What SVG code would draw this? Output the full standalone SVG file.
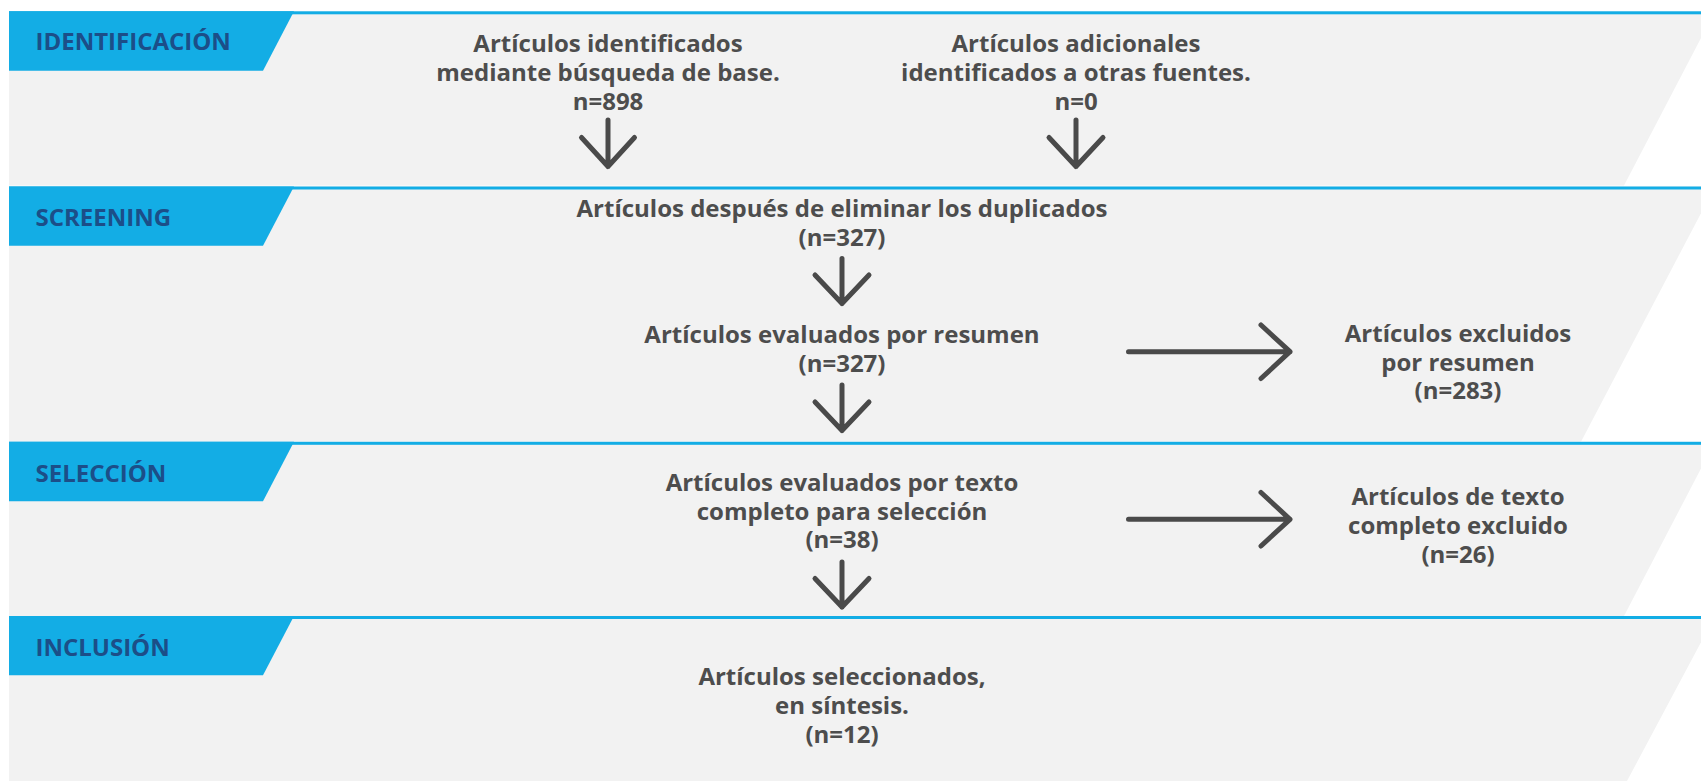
<svg xmlns="http://www.w3.org/2000/svg" width="1701" height="784" viewBox="0 0 1701 784">
<defs>
<style>
.band{fill:#F2F2F2}
.rule{fill:#13ADE5}
.tab{fill:#13ADE5}
.lbl{font-family:"Open Sans","Liberation Sans",sans-serif;font-weight:700;font-size:24px;fill:#1C4E88}
.txt{font-family:"Open Sans","Liberation Sans",sans-serif;font-weight:700;font-size:24px;fill:#4D4D4D;text-anchor:middle}
.arr{fill:none;stroke:#4A4A4A;stroke-width:5;stroke-linecap:round;stroke-linejoin:round}
</style>
</defs>
<rect width="1701" height="784" fill="#FFFFFF"/>
<g id="band-identificacion">
<polygon class="band" points="9,11.3 1715,11.3 1624,185.5 9,185.5"/>
<rect class="rule" x="9" y="11.3" width="1692" height="3"/>
<polygon class="tab" points="9,11.3 294,11.3 263,70.7 9,70.7"/>
<text class="lbl" x="35.5" y="50">IDENTIFICACIÓN</text>
</g>
<g id="band-screening">
<polygon class="band" points="9,186.5 1715,186.5 1581,441.8 9,441.8"/>
<rect class="rule" x="9" y="186.5" width="1692" height="3"/>
<polygon class="tab" points="9,186.5 294,186.5 263,245.8 9,245.8"/>
<text class="lbl" x="35.5" y="225.7">SCREENING</text>
</g>
<g id="band-seleccion">
<polygon class="band" points="9,441.8 1715,441.8 1624,616 9,616"/>
<rect class="rule" x="9" y="441.8" width="1692" height="3"/>
<polygon class="tab" points="9,441.8 294,441.8 263,501.2 9,501.2"/>
<text class="lbl" x="35.5" y="481.5">SELECCIÓN</text>
</g>
<g id="band-inclusion">
<polygon class="band" points="9,616 1715,616 1627,781 9,781"/>
<rect class="rule" x="9" y="616" width="1692" height="3"/>
<polygon class="tab" points="9,616 294,616 263,675.3 9,675.3"/>
<text class="lbl" x="35.5" y="655.5">INCLUSIÓN</text>
</g>
<g id="node-db">
<text class="txt" x="608" y="52.3"><tspan x="608">Artículos identificados</tspan><tspan x="608" dy="29">mediante búsqueda de base.</tspan><tspan x="608" dy="29">n=898</tspan></text>
</g>
<g id="node-other">
<text class="txt" x="1076" y="52.3"><tspan x="1076">Artículos adicionales</tspan><tspan x="1076" dy="29">identificados a otras fuentes.</tspan><tspan x="1076" dy="29">n=0</tspan></text>
</g>
<g id="node-dedup">
<text class="txt" x="842" y="217.3"><tspan x="842">Artículos después de eliminar los duplicados</tspan><tspan x="842" dy="29">(n=327)</tspan></text>
</g>
<g id="node-abstract">
<text class="txt" x="842" y="342.7"><tspan x="842">Artículos evaluados por resumen</tspan><tspan x="842" dy="29">(n=327)</tspan></text>
</g>
<g id="node-excl-abstract">
<text class="txt" x="1458" y="341.7"><tspan x="1458">Artículos excluidos</tspan><tspan x="1458" dy="28.8">por resumen</tspan><tspan x="1458" dy="28.8">(n=283)</tspan></text>
</g>
<g id="node-fulltext">
<text class="txt" x="842" y="490.7"><tspan x="842">Artículos evaluados por texto</tspan><tspan x="842" dy="28.8">completo para selección</tspan><tspan x="842" dy="28.8">(n=38)</tspan></text>
</g>
<g id="node-excl-fulltext">
<text class="txt" x="1458" y="505"><tspan x="1458">Artículos de texto</tspan><tspan x="1458" dy="28.8">completo excluido</tspan><tspan x="1458" dy="28.8">(n=26)</tspan></text>
</g>
<g id="node-included">
<text class="txt" x="842" y="685"><tspan x="842">Artículos seleccionados,</tspan><tspan x="842" dy="28.8">en síntesis.</tspan><tspan x="842" dy="28.8">(n=12)</tspan></text>
</g>
<g id="connectors">
<path class="arr" d="M608,120 V166.5 M581.5,137.5 L608,166.5 L634.5,137.5"/>
<path class="arr" d="M1076,120 V166.5 M1049,137.5 L1076,166.5 L1103,137.5"/>
<path class="arr" d="M842,258.5 V303.5 M815,275 L842,303.5 L869,275"/>
<path class="arr" d="M842,385 V430.5 M815,402 L842,430.5 L869,402"/>
<path class="arr" d="M842,562 V607 M815,578.5 L842,607 L869,578.5"/>
<path class="arr" d="M1128.5,351.7 H1290 M1261,325 L1290,351.7 L1261,378.5"/>
<path class="arr" d="M1128.5,519.3 H1290 M1261,492.5 L1290,519.3 L1261,546"/>
</g>
</svg>
